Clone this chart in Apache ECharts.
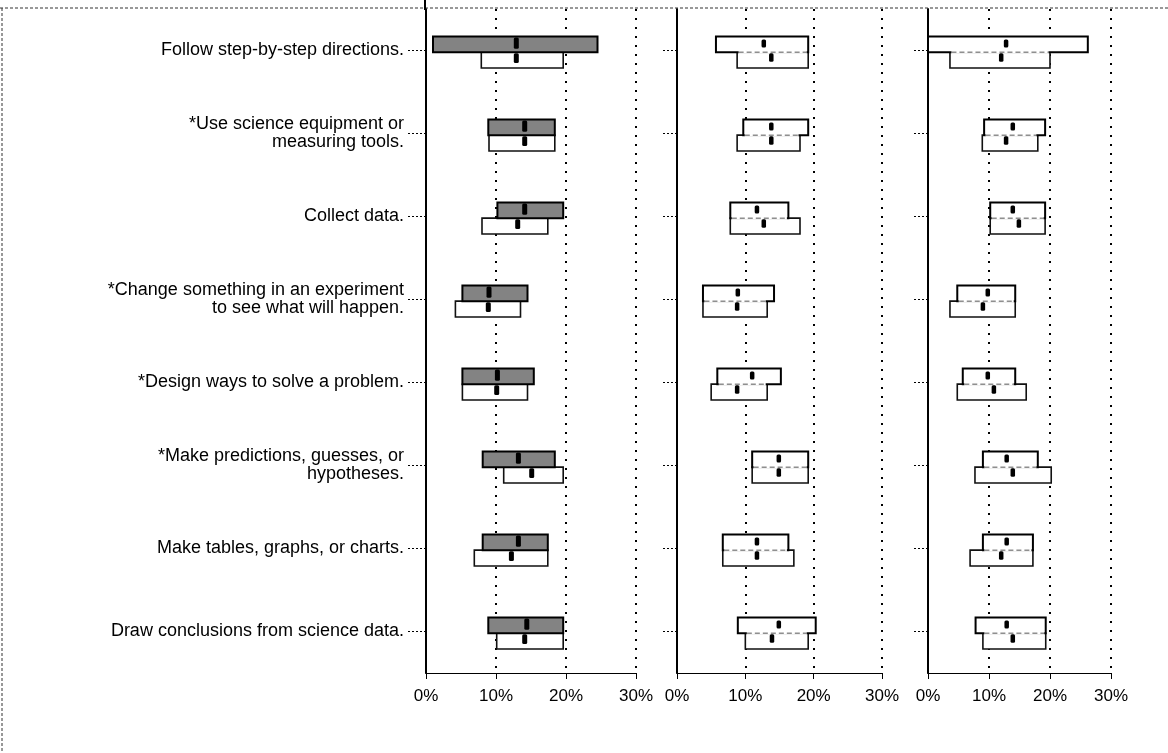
<!DOCTYPE html>
<html>
<head>
<meta charset="utf-8">
<script src="https://cdn.jsdelivr.net/npm/echarts@6/dist/echarts.min.js"></script>
<style>
  html, body { margin: 0; padding: 0; background: #fff; }
  #chart { width: 1168px; height: 753px; }
</style>
</head>
<body>
<div id="chart"></div>
<script>
// Activities, listed top to bottom
const categories = [
  'Follow step-by-step directions.',
  '*Use science equipment or\nmeasuring tools.',
  'Collect data.',
  '*Change something in an experiment\nto see what will happen.',
  '*Design ways to solve a problem.',
  '*Make predictions, guesses, or\nhypotheses.',
  'Make tables, graphs, or charts.',
  'Draw conclusions from science data.'
];

// Percent axis ticks
const xTickValues = [0, 10, 20, 30];

// Each row: [low, median, high] in percent
const panel1Upper = [[1.0, 12.9, 24.5], [8.9, 14.1, 18.4], [10.2, 14.1, 19.6], [5.2, 9.0, 14.5], [5.2, 10.2, 15.4], [8.1, 13.2, 18.4], [8.1, 13.2, 17.4], [8.9, 14.4, 19.6]];
const panel1Lower = [[7.9, 12.9, 19.6], [9.0, 14.1, 18.4], [8.0, 13.1, 17.4], [4.2, 8.9, 13.5], [5.2, 10.1, 14.5], [11.1, 15.1, 19.6], [6.9, 12.2, 17.4], [10.1, 14.1, 19.6]];
const panel2Upper = [[5.7, 12.7, 19.2], [9.7, 13.8, 19.2], [7.8, 11.7, 16.3], [3.8, 8.9, 14.2], [5.9, 11.0, 15.2], [11.0, 14.9, 19.2], [6.7, 11.7, 16.3], [8.9, 14.9, 20.3]];
const panel2Lower = [[8.8, 13.8, 19.2], [8.8, 13.8, 18.0], [7.8, 12.7, 18.0], [3.8, 8.8, 13.2], [5.0, 8.8, 13.2], [11.0, 14.9, 19.2], [6.7, 11.7, 17.1], [10.0, 13.9, 19.2]];
const panel3Upper = [[0.0, 12.8, 26.2], [9.2, 13.9, 19.2], [10.2, 13.9, 19.2], [4.8, 9.8, 14.3], [5.7, 9.8, 14.3], [9.0, 12.9, 18.0], [9.0, 12.9, 17.2], [7.8, 12.9, 19.3]];
const panel3Lower = [[3.6, 12.0, 20.0], [8.9, 12.8, 18.0], [10.2, 14.9, 19.2], [3.6, 9.0, 14.3], [4.8, 10.8, 16.1], [7.7, 13.9, 20.2], [6.9, 12.0, 17.2], [9.0, 13.9, 19.3]];

const FONT = "'Liberation Sans', Arial, sans-serif";

const panels = [
  { upper: panel1Upper, lower: panel1Lower, left: 426, width: 210, shaded: true },
  { upper: panel2Upper, lower: panel2Lower, left: 677, width: 205, shaded: false },
  { upper: panel3Upper, lower: panel3Lower, left: 928, width: 183, shaded: false }
];

function buildRows(upper, lower) {
  return categories.map((c, i) => [i, upper[i][0], upper[i][1], upper[i][2], lower[i][0], lower[i][1], lower[i][2]]);
}

function makeRenderer(shaded) {
  return function (params, api) {
    const cat = api.value(0);
    const uLo = api.value(1), uMed = api.value(2), uHi = api.value(3);
    const lLo = api.value(4), lMed = api.value(5), lHi = api.value(6);
    const cy = api.coord([0, cat])[1];
    const band = api.size([0, 1])[1];
    const h = band * 0.19;
    const split = cy + band * 0.02;
    const X = v => api.coord([v, cat])[0];
    const children = [];

    // lower box
    children.push({
      type: 'rect',
      shape: { x: X(lLo), y: split, width: X(lHi) - X(lLo), height: h },
      style: { fill: '#fff', stroke: '#111', lineWidth: 1.6 }
    });
    // upper box
    children.push({
      type: 'rect',
      shape: { x: X(uLo), y: split - h, width: X(uHi) - X(uLo), height: h },
      style: { fill: shaded ? '#838383' : '#fff', stroke: '#000', lineWidth: 2 }
    });
    if (!shaded) {
      // shared edge between the two boxes is drawn dashed
      const a = X(Math.max(uLo, lLo)) + 1.5, b = X(Math.min(uHi, lHi)) - 1.5;
      if (b > a) {
        children.push({
          type: 'line', shape: { x1: a, y1: split, x2: b, y2: split },
          style: { stroke: '#fff', lineWidth: 3 }
        });
        children.push({
          type: 'line', shape: { x1: a, y1: split, x2: b, y2: split },
          style: { stroke: '#555', lineWidth: 1, lineDash: [5, 3] }
        });
      }
    }
    // median markers
    const mw = shaded ? 5 : 4.5;
    const mhU = shaded ? h * 0.72 : h * 0.52;
    const mhL = shaded ? h * 0.62 : h * 0.55;
    children.push({
      type: 'rect',
      shape: { x: X(uMed) - mw / 2, y: split - h + (shaded ? 1 : 3), width: mw, height: mhU, r: 1.5 },
      style: { fill: '#000' }
    });
    children.push({
      type: 'rect',
      shape: { x: X(lMed) - mw / 2, y: split + 1, width: mw, height: mhL, r: 1.5 },
      style: { fill: '#000' }
    });
    return { type: 'group', children };
  };
}

const grids = [], xAxes = [], yAxes = [], series = [];
panels.forEach((p, i) => {
  grids.push({ left: p.left, width: p.width, top: 9, height: 664 });
  xAxes.push({
    type: 'value', gridIndex: i, min: xTickValues[0], max: xTickValues[xTickValues.length - 1], interval: 10,
    axisLine: { show: true, lineStyle: { color: '#000', width: 1 } },
    axisTick: { show: true, length: 6, lineStyle: { color: '#000', width: 1 } },
    axisLabel: { formatter: '{value}%', color: '#000', fontSize: 17, fontFamily: FONT, margin: 15 },
    splitLine: { show: true, lineStyle: { color: '#000', width: 2, type: [2, 7] } }
  });
  yAxes.push({
    type: 'category', gridIndex: i, data: categories, inverse: true,
    axisLine: { show: true, lineStyle: { color: '#000', width: 2 } },
    axisTick: { show: true, alignWithLabel: true, length: i === 0 ? 18 : 15, lineStyle: { color: '#000', width: 1, type: [2, 2] } },
    axisLabel: { show: i === 0, color: '#000', fontSize: 18, fontFamily: FONT, margin: 22, lineHeight: 18, align: 'right' },
    splitLine: { show: false }
  });
  series.push({
    type: 'custom', xAxisIndex: i, yAxisIndex: i,
    data: buildRows(p.upper, p.lower),
    encode: { x: [1, 2, 3, 4, 5, 6], y: 0 },
    renderItem: makeRenderer(p.shaded),
    silent: true, animation: false
  });
});

const chart = echarts.init(document.getElementById('chart'), null, { renderer: 'canvas' });
chart.setOption({
  animation: false,
  backgroundColor: '#fff',
  grid: grids, xAxis: xAxes, yAxis: yAxes, series,
  graphic: [
    { type: 'line', shape: { x1: 0, y1: 8, x2: 1168, y2: 8 }, style: { stroke: '#333', lineWidth: 1, lineDash: [3, 2] }, z: 100 },
    { type: 'line', shape: { x1: 2, y1: 8, x2: 2, y2: 753 }, style: { stroke: '#333', lineWidth: 1, lineDash: [3, 2] }, z: 100 },
    { type: 'line', shape: { x1: 425, y1: 0, x2: 425, y2: 10 }, style: { stroke: '#000', lineWidth: 2 }, z: 100 }
  ]
});
</script>
</body>
</html>
